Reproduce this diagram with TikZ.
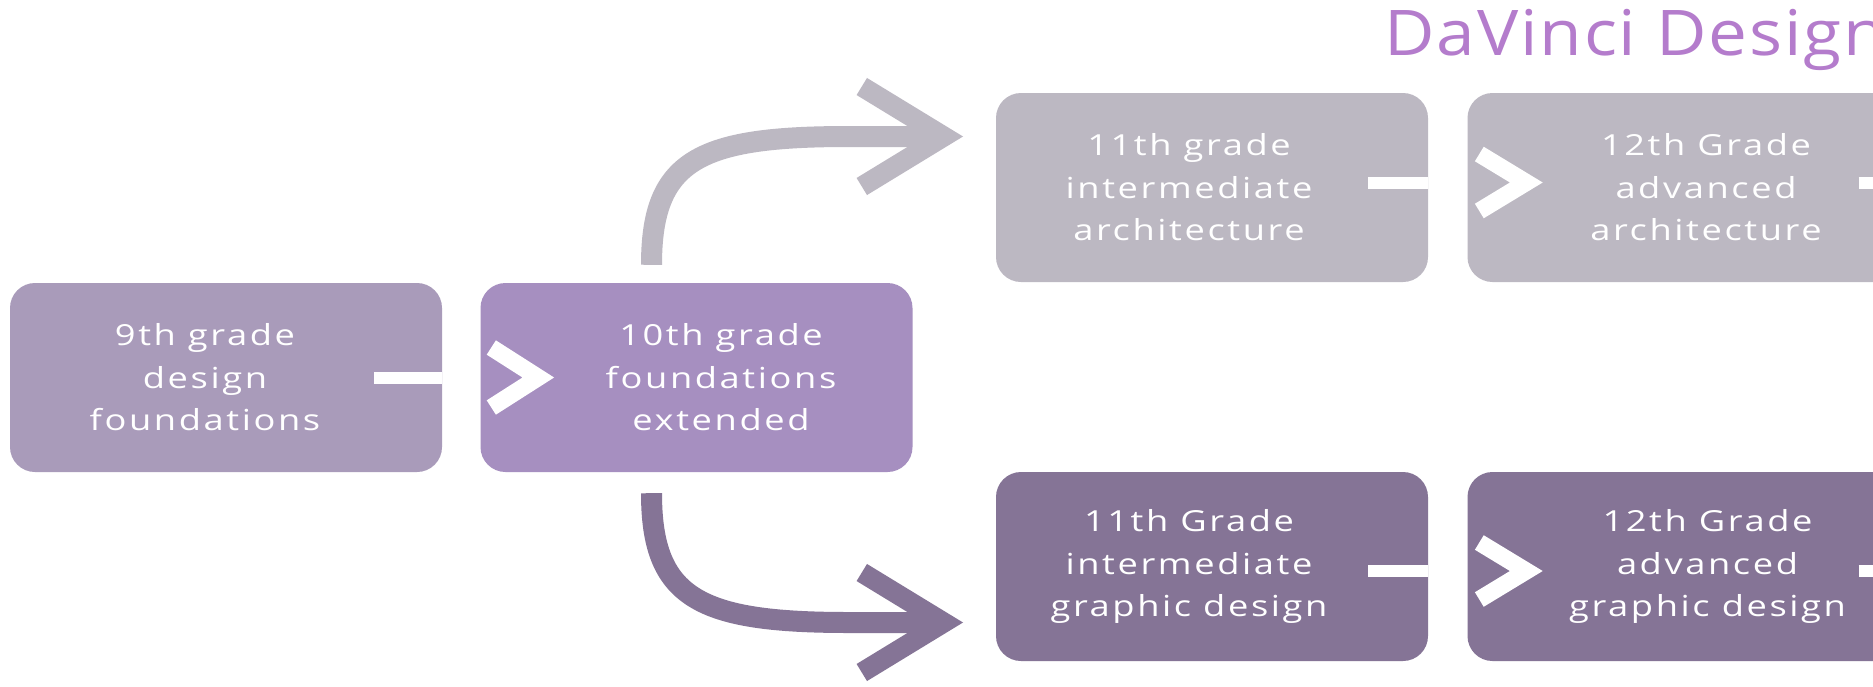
\documentclass[tikz,border=0pt]{standalone}
\usepackage{fontspec}
\setmainfont{Open Sans}[FakeStretch=1.25,LetterSpace=9]
\newfontfamily\titlefont{Open Sans}[FakeStretch=1.1,LetterSpace=3]
\usetikzlibrary{calc}
\definecolor{cnine}{HTML}{A99BBA}
\definecolor{cten}{HTML}{A68FC0}
\definecolor{ctop}{HTML}{BCB8C2}
\definecolor{cbot}{HTML}{857496}
\definecolor{ctitle}{HTML}{B47CCC}
\begin{document}
\begin{tikzpicture}[x=1pt,y=-1pt,
  box/.style={rounded corners=25pt, minimum width=432pt, minimum height=189pt, inner sep=0pt, draw=none},
  lbl/.style={text=white, align=center, font=\fontsize{29}{42.5}\selectfont, inner sep=0pt},
  wbar/.style={draw=white, line width=12pt},
  chev/.style={draw=white, line width=17pt, line join=miter, miter limit=10},
  bigshaft/.style={line width=21pt},
  bighead/.style={line width=20pt, line join=miter, miter limit=10}]
\fill[white] (0,0) rectangle (1873,686);
\useasboundingbox (0,0) rectangle (1873,686);

% title
\node[anchor=base west, text=ctitle, font=\titlefont\fontsize{63}{70}\selectfont, inner sep=0pt] (title) at (1384,55) {DaVinci Design};

% boxes
\node[box, fill=cnine] (b9) at (226,377.5) {};
\node[box, fill=cten] (b10) at (696.5,377.5) {};
\node[box, fill=ctop] (a11) at (1212,187.5) {};
\node[box, fill=ctop] (a12) at (1683.5,187.5) {};
\node[box, fill=cbot] (g11) at (1212,566.5) {};
\node[box, fill=cbot] (g12) at (1683.5,566.5) {};

% labels
\node[lbl] (t9) at ($(b9.center)+(-21,0)$) {9th grade\\design\\foundations};
\node[lbl] (t10) at ($(b10.center)+(24.5,0)$) {10th grade\\foundations\\extended};
\node[lbl] (ta11) at ($(a11.center)+(-23,0)$) {11th grade\\intermediate\\architecture};
\node[lbl] (ta12) at ($(a12.center)+(22.5,0)$) {12th Grade\\advanced\\architecture};
\node[lbl] (tg11) at ($(g11.center)+(-23,0)$) {11th Grade\\intermediate\\graphic design};
\node[lbl] (tg12) at ($(g12.center)+(24,0)$) {12th Grade\\advanced\\graphic design};

% small white arrows
\draw[wbar] ($(b9.east)+(-68,0)$) -- (b9.east);
\draw[chev] ($(b10.west)+(11,-30)$) -- ($(b10.west)+(58,0)$) -- ($(b10.west)+(11,30)$);

\draw[wbar] ($(a11.east)+(-60,-5)$) -- ($(a11.east)+(0,-5)$);
\draw[chev] ($(a12.west)+(12,-33.5)$) -- ($(a12.west)+(59,-5)$) -- ($(a12.west)+(12,23.5)$);
\draw[wbar] ($(a12.east)+(-41,-5)$) -- ($(a12.east)+(0,-5)$);

\draw[wbar] ($(g11.east)+(-60,4.5)$) -- ($(g11.east)+(0,4.5)$);
\draw[chev] ($(g12.west)+(12,-24)$) -- ($(g12.west)+(59,4.5)$) -- ($(g12.west)+(12,33)$);
\draw[wbar] ($(g12.east)+(-41,4.5)$) -- ($(g12.east)+(0,4.5)$);

% big curved arrows
\coordinate (ts) at ($(b10.north)+(-45,-18)$);
\coordinate (te) at ($(a11.west)+(-52,-51)$);
\draw[bigshaft, draw=ctop] (ts) .. controls ($(ts)+(0,-105)$) and ($(te)+(-245,0)$) .. ($(te)+(-95,0)$) -- (te);
\draw[bighead, draw=ctop] ($(te)+(-82,-50)$) -- (te) -- ($(te)+(-82,50)$);

\coordinate (bs) at ($(b10.south)+(-45,21)$);
\coordinate (be) at ($(g11.west)+(-52,56)$);
\draw[bigshaft, draw=cbot] (bs) .. controls ($(bs)+(0,105)$) and ($(be)+(-245,0)$) .. ($(be)+(-95,0)$) -- (be);
\draw[bighead, draw=cbot] ($(be)+(-82,-50)$) -- (be) -- ($(be)+(-82,50)$);
\end{tikzpicture}
\end{document}
